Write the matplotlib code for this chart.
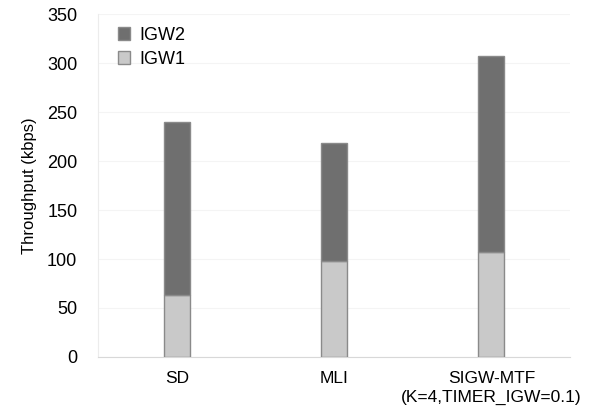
import numpy as np
import matplotlib.pyplot as plt

plt.rcParams['font.family'] = ['Liberation Sans', 'DejaVu Sans']

# Data
categories = ["SD", "MLI", "SIGW-MTF\n(K=4,TIMER_IGW=0.1)"]
igw1 = [63, 98, 107]
igw2 = [177, 120, 200]

x = np.arange(len(categories))
bar_width = 0.165

fig = plt.figure(figsize=(6.02, 4.12), dpi=100)
ax = fig.add_axes([0.163, 0.1335, 0.784, 0.8325])

ax.bar(x, igw1, width=bar_width, color='#c9c9c9', edgecolor='#8a8a8a',
       linewidth=1.0, label='IGW1', zorder=3)
ax.bar(x, igw2, width=bar_width, bottom=igw1, color='#6f6f6f',
       edgecolor='#8a8a8a', linewidth=1.0, label='IGW2', zorder=3)

ax.set_xlim(-0.5, 2.5)
ax.set_ylim(0, 350)
ax.set_yticks(np.arange(0, 351, 50))
ax.set_xticks(x)
ax.set_xticklabels(categories, fontsize=12.5, linespacing=1.3)
ax.tick_params(axis='y', labelsize=13, length=0, pad=15)
ax.tick_params(axis='x', length=0, pad=10)
ax.set_ylabel("Throughput (kbps)", fontsize=12, labelpad=10)
ax.yaxis.set_label_coords(-0.13, 0.5)

ax.yaxis.grid(True, color='#f4f4f4', linewidth=0.8, zorder=0)
for side in ['top', 'right']:
    ax.spines[side].set_visible(False)
ax.spines['left'].set_color('#ececec')
ax.spines['bottom'].set_color('#d8d8d8')

handles, labels = ax.get_legend_handles_labels()
ax.legend(handles[::-1], labels[::-1], loc='upper left', frameon=False,
          fontsize=13, handlelength=0.7, handleheight=0.7, handletextpad=0.5,
          labelspacing=0.4, bbox_to_anchor=(0.015, 1.0), borderaxespad=0.3)

fig.savefig("out.png", dpi=100)
